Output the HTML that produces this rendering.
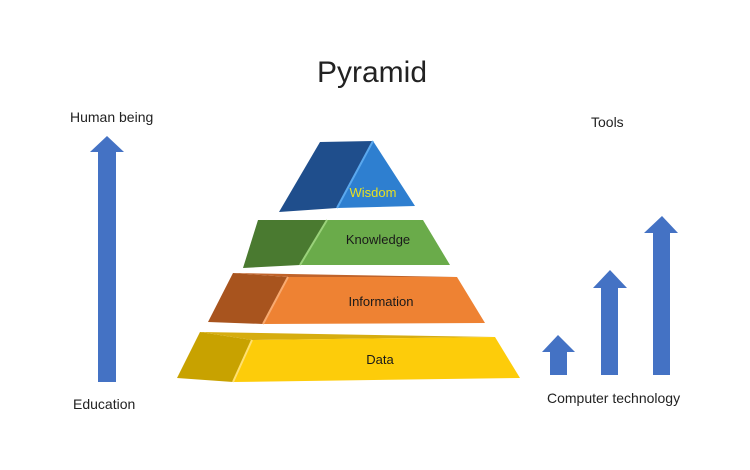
<!DOCTYPE html>
<html><head><style>
body{margin:0;background:#fff;}
svg{display:block;font-family:"Liberation Sans",sans-serif;}
</style></head><body>
<svg width="750" height="470" viewBox="0 0 750 470">
<text x="372" y="82" font-size="30" text-anchor="middle" fill="#222">Pyramid</text>
<text x="70" y="122" font-size="14" fill="#222">Human being</text>
<text x="591" y="127" font-size="14" fill="#222">Tools</text>
<text x="73" y="409" font-size="14" fill="#222">Education</text>
<text x="547" y="403" font-size="14" fill="#222">Computer technology</text>
<g fill="#4472C4">
<polygon points="107,136 124,152 116,152 116,382 98,382 98,152 90,152"/>
<polygon points="558,335 575,352 567,352 567,375 550,375 550,352 542,352"/>
<polygon points="610,270 627,288 618,288 618,375 601,375 601,288 593,288"/>
<polygon points="662,216 678,233 670,233 670,375 653,375 653,233 644,233"/>
</g>
<!-- Wisdom -->
<polygon points="320,142 373,141 337,208 279,212" fill="#1f4e8c"/>
<polygon points="373,141 415,206 337,208" fill="#2e7fd0"/>
<line x1="373" y1="141" x2="337" y2="208" stroke="#5aa8ee" stroke-width="2"/>
<text x="373" y="197" font-size="13" text-anchor="middle" fill="#e8e020">Wisdom</text>
<!-- Knowledge -->
<polygon points="258,220 327,220 300,265 243,268" fill="#4a7a30"/>
<polygon points="327,220 423,220 450,265 300,265" fill="#6aab4a"/>
<line x1="327" y1="220" x2="300" y2="265" stroke="#9ad27a" stroke-width="2"/>
<text x="378" y="244" font-size="13" text-anchor="middle" fill="#1a1a1a">Knowledge</text>
<!-- Information -->
<polygon points="233,273 288,277 263,324 208,322" fill="#a8541e"/>
<polygon points="233,273 457,277 288,277" fill="#c0632a"/>
<polygon points="288,277 457,277 485,323 263,324" fill="#ee8233"/>
<line x1="288" y1="277" x2="263" y2="324" stroke="#f8aa70" stroke-width="2"/>
<text x="381" y="306" font-size="13" text-anchor="middle" fill="#1a1a1a">Information</text>
<!-- Data -->
<polygon points="200,332 252,340 233,382 177,378" fill="#c8a200"/>
<polygon points="200,332 495,337 252,340" fill="#d6ad10"/>
<polygon points="252,340 495,337 520,378 233,382" fill="#fdcc0a"/>
<line x1="252" y1="340" x2="233" y2="382" stroke="#ffe070" stroke-width="2"/>
<text x="380" y="364" font-size="13" text-anchor="middle" fill="#1a1a1a">Data</text>
</svg>
</body></html>
